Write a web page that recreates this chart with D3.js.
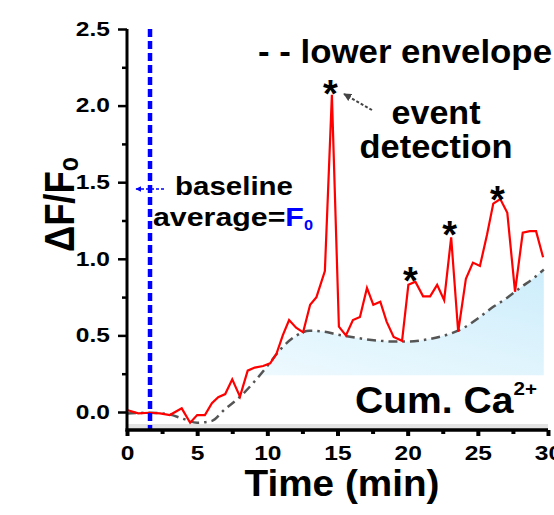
<!DOCTYPE html>
<html><head><meta charset="utf-8">
<script src="https://cdn.jsdelivr.net/npm/d3@7"></script>
<style>
body{margin:0;background:#fff}
svg{display:block;font-family:"Liberation Sans",Arial,sans-serif;font-weight:bold}
</style>
</head><body>
<svg id="c" width="554" height="515"></svg>
<script>
// ---- data ----
const time = [0, 0.8, 1.6, 2.35, 3.05, 3.9, 4.5, 5.0, 5.55, 6.05, 6.5, 7.0, 7.5, 8.05, 8.6, 9.1, 9.7, 10.2, 10.65, 11.1, 11.55, 12.05, 12.55, 13.05, 13.5, 14.1, 14.6, 15.1, 15.6, 16.1, 16.6, 17.1, 17.55, 18.05, 18.5, 19.0, 19.6, 20.05, 20.55, 21.1, 21.6, 22.1, 22.6, 23.1, 23.6, 24.15, 24.65, 25.15, 25.65, 26.1, 26.6, 27.1, 27.65, 28.2, 28.7, 29.15, 29.65];
const dff = [0.013, -0.009, -0.005, -0.009, -0.02, 0.024, -0.07, -0.02, -0.02, 0.057, 0.096, 0.117, 0.213, 0.10, 0.27, 0.29, 0.30, 0.318, 0.38, 0.50, 0.60, 0.55, 0.52, 0.70, 0.75, 0.92, 2.07, 0.557, 0.50, 0.60, 0.62, 0.81, 0.70, 0.72, 0.59, 0.49, 0.465, 0.83, 0.85, 0.755, 0.755, 0.83, 0.73, 1.14, 0.524, 0.87, 0.975, 0.953, 1.155, 1.36, 1.39, 1.30, 0.785, 1.17, 1.18, 1.18, 1.01];
const envTime = [0, 1.5, 3.0, 4.0, 5.0, 6.0, 7.0, 8.0, 9.0, 10.0, 11.0, 12.0, 13.0, 14.0, 15.0, 16.0, 17.0, 18.0, 19.0, 20.0, 21.0, 22.0, 23.0, 24.0, 25.0, 26.0, 27.0, 28.0, 29.0, 29.7];
const envVal = [-0.01, -0.005, -0.015, -0.045, -0.07, -0.06, 0.02, 0.095, 0.19, 0.30, 0.415, 0.495, 0.53, 0.525, 0.505, 0.49, 0.475, 0.465, 0.46, 0.46, 0.468, 0.485, 0.51, 0.55, 0.61, 0.68, 0.74, 0.81, 0.875, 0.93];
const eventTime = [14.5, 20.2, 23.0, 26.4];
const eventLevel = [2.13, 0.905, 1.21, 1.435];
const baselineEnd = 1.64;
const fillFloor = 0.24;
const xTicks = [0, 5, 10, 15, 20, 25, 30];
const xMinor = [2.5, 7.5, 12.5, 17.5, 22.5, 27.5];
const yTicks = [0, 0.5, 1.0, 1.5, 2.0, 2.5];
const yMinor = [0.25, 0.75, 1.25, 1.75, 2.25];

// ---- scales ----
const svg = d3.select("#c");
const x = d3.scaleLinear().domain([0, 30]).range([127, 548]);
const y = d3.scaleLinear().domain([-0.1175, 2.5]).range([430, 29]);
const fit = (sel, w) => sel.attr("textLength", w).attr("lengthAdjust", "spacingAndGlyphs");

const defs = svg.append("defs");
const grad = defs.append("linearGradient").attr("id", "fillg")
  .attr("x1", "100%").attr("y1", "0%").attr("x2", "0%").attr("y2", "100%");
grad.append("stop").attr("offset", "0%").attr("stop-color", "#cdedfb");
grad.append("stop").attr("offset", "100%").attr("stop-color", "#f4fcff");
function marker(id, color) {
  defs.append("marker").attr("id", id).attr("viewBox", "0 0 10 10")
    .attr("refX", 9).attr("refY", 5).attr("markerWidth", 4).attr("markerHeight", 4)
    .attr("orient", "auto").attr("markerUnits", "strokeWidth")
    .append("path").attr("d", "M0,0L10,5L0,10z").attr("fill", color);
}
marker("ag", "#444");
marker("ab", "#0000ff");

const envData = envTime.map((t, i) => ({t, v: envVal[i]}));
const redData = time.map((t, i) => ({t, v: dff[i]}));

// fill under the lower envelope
svg.append("path").datum(envData)
  .attr("d", d3.area().curve(d3.curveMonotoneX)
    .x(d => x(d.t)).y0(y(fillFloor)).y1(d => y(Math.max(d.v, fillFloor))))
  .attr("fill", "url(#fillg)");

// faint band along the bottom
svg.append("rect").attr("x", x(0)).attr("y", y.range()[0] - 6)
  .attr("width", x(30) - x(0)).attr("height", 6).attr("fill", "#e3e3e3");

// lower envelope
svg.append("path").datum(envData)
  .attr("d", d3.line().curve(d3.curveMonotoneX).x(d => x(d.t)).y(d => y(d.v)))
  .attr("fill", "none").attr("stroke", "#555").attr("stroke-width", 2.5)
  .attr("stroke-dasharray", "9,5,2.5,5");

// trace
svg.append("path").datum(redData)
  .attr("d", d3.line().x(d => x(d.t)).y(d => y(d.v)))
  .attr("fill", "none").attr("stroke", "#ff0000").attr("stroke-width", 2.2);

// baseline end marker
svg.append("line").attr("x1", x(baselineEnd)).attr("x2", x(baselineEnd))
  .attr("y1", y(2.5)).attr("y2", y.range()[0])
  .attr("stroke", "#0000ff").attr("stroke-width", 4.5).attr("stroke-dasharray", "8,4");

// axes
function styleTicks(g, w) {
  g.select(".domain").remove();
  g.selectAll(".tick line").attr("stroke", "#000").attr("stroke-width", w);
  g.selectAll("text").attr("font-size", 19.5).attr("font-weight", "bold").attr("fill", "#000")
    .attr("font-family", '"Liberation Sans",Arial,sans-serif')
    .each(function () { const n = this.getComputedTextLength(); d3.select(this).attr("textLength", n * 1.26).attr("lengthAdjust", "spacingAndGlyphs"); });
}
const gy = svg.append("g").attr("transform", `translate(${x(0)},0)`)
  .call(d3.axisLeft(y).tickValues(yTicks).tickSize(9).tickPadding(8).tickFormat(d3.format(".1f")));
styleTicks(gy, 2.5);
const gy2 = svg.append("g").attr("transform", `translate(${x(0)},0)`)
  .call(d3.axisLeft(y).tickValues(yMinor).tickSize(5).tickFormat(""));
styleTicks(gy2, 2.5);
const gx = svg.append("g").attr("transform", `translate(0,${y.range()[0]})`)
  .call(d3.axisBottom(x).tickValues(xTicks).tickSize(6).tickPadding(10).tickFormat(d3.format("d")));
styleTicks(gx, 4);
const gx2 = svg.append("g").attr("transform", `translate(0,${y.range()[0]})`)
  .call(d3.axisBottom(x).tickValues(xMinor).tickSize(4).tickFormat(""));
styleTicks(gx2, 4);
svg.append("line").attr("x1", x(0)).attr("x2", x(0)).attr("y1", y(2.5)).attr("y2", y.range()[0] + 1.5)
  .attr("stroke", "#000").attr("stroke-width", 3);
svg.append("line").attr("x1", x(0) - 1.5).attr("x2", x(30)).attr("y1", y.range()[0]).attr("y2", y.range()[0])
  .attr("stroke", "#000").attr("stroke-width", 3.5);

// axis titles
fit(svg.append("text").attr("x", 342).attr("y", 496).attr("text-anchor", "middle")
  .attr("font-size", 37).text("Time (min)"), 195);
const yl = svg.append("text").attr("transform", "translate(74,252) rotate(-90)")
  .attr("font-size", 42);
yl.append("tspan").text("\u0394F/F");
yl.append("tspan").attr("font-size", 27).attr("dy", 4).text("o");
fit(yl, 95);

// event asterisks
svg.selectAll(".ast").data(eventTime).join("text").attr("class", "ast")
  .attr("x", d => x(d)).attr("y", (d, i) => y(eventLevel[i]) + 21)
  .attr("text-anchor", "middle").attr("font-size", 38).text("*");

// annotations
fit(svg.append("text").attr("x", 258).attr("y", 63).attr("font-size", 33).text("- - lower envelope"), 294);
fit(svg.append("text").attr("x", 436).attr("y", 124).attr("text-anchor", "middle").attr("font-size", 33).text("event"), 89);
fit(svg.append("text").attr("x", 436).attr("y", 158).attr("text-anchor", "middle").attr("font-size", 33).text("detection"), 153);
svg.append("line").attr("x1", 372).attr("y1", 110).attr("x2", 344).attr("y2", 94)
  .attr("stroke", "#444").attr("stroke-width", 2).attr("stroke-dasharray", "3,2").attr("marker-end", "url(#ag)");

fit(svg.append("text").attr("x", 175).attr("y", 195).attr("font-size", 26).text("baseline"), 118);
const av = svg.append("text").attr("x", 153).attr("y", 226).attr("font-size", 26);
av.append("tspan").text("average=");
av.append("tspan").attr("fill", "#0000ff").text("F");
av.append("tspan").attr("fill", "#0000ff").attr("font-size", 14).attr("dy", 4).text("0");
fit(av, 160);
svg.append("line").attr("x1", 164).attr("y1", 189).attr("x2", 136).attr("y2", 189)
  .attr("stroke", "#0000ff").attr("stroke-width", 1.5).attr("stroke-dasharray", "3,2").attr("marker-end", "url(#ab)");

const cum = svg.append("text").attr("x", 355).attr("y", 413).attr("font-size", 36);
cum.append("tspan").text("Cum. Ca");
cum.append("tspan").attr("font-size", 19).attr("dy", -18).text("2+");
fit(cum, 182);
</script>
</body></html>
